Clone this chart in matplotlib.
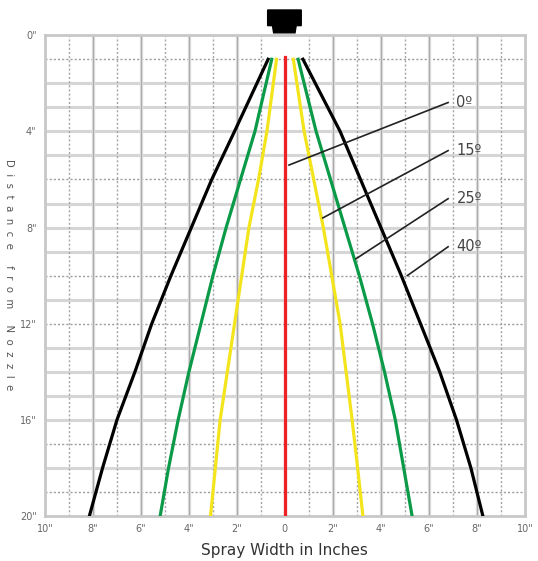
import matplotlib.pyplot as plt
from matplotlib.patches import Polygon, Rectangle

# depth below nozzle (inches) at which each spray edge was read
depth = [1, 4, 6, 8, 10, 12, 14, 16, 18, 20]

# spray edges, left and right, inches from centre
black_left = [-0.7, -2.1, -3.05, -3.9, -4.75, -5.55, -6.25, -7.0, -7.6, -8.15]
black_right = [0.75, 2.3, 3.15, 4.0, 4.85, 5.65, 6.45, 7.15, 7.75, 8.25]
green_left = [-0.55, -1.25, -1.85, -2.45, -3.0, -3.5, -4.0, -4.45, -4.85, -5.2]
green_right = [0.55, 1.3, 1.9, 2.5, 3.1, 3.65, 4.15, 4.6, 4.95, 5.3]
yellow_left = [-0.35, -0.75, -1.1, -1.5, -1.8, -2.1, -2.4, -2.7, -2.9, -3.1]
yellow_right = [0.35, 0.8, 1.2, 1.6, 1.95, 2.3, 2.55, 2.8, 3.03, 3.25]
red_x = [0, 0]
red_y = [0.9, 20]

# angle labels: text, point on curve, end of leader line
angleLabels = ['0º', '15º', '25º', '40º']
pointerStart = [(0.17, 5.4), (1.58, 7.6), (2.96, 9.3), (5.1, 10.0)]
pointerEnd = [(6.8, 2.8), (6.8, 4.8), (6.8, 6.8), (6.8, 8.8)]

xTicks = [-10, -8, -6, -4, -2, 0, 2, 4, 6, 8, 10]
xTickLabels = ['10"', '8"', '6"', '4"', '2"', '0', '2"', '4"', '6"', '8"', '10"']
yTicks = [0, 4, 8, 12, 16, 20]
yTickLabels = ['0"', '4"', '8"', '12"', '16"', '20"']
dottedRows = [1, 6, 10, 12, 17, 19]

fig = plt.figure(figsize=(5.38, 5.61), dpi=100)
ax = fig.add_axes([0.0836, 0.0802, 0.892, 0.857])
ax.set_xlim(-10, 10)
ax.set_ylim(20, 0)

# grid
for yy in range(1, 20):
    if yy in dottedRows:
        ax.axhline(yy, color='#9c9c9c', lw=1, ls=(0, (1.5, 1.5)), zorder=1)
    else:
        ax.axhline(yy, color='#d6d6d6', lw=2.2, zorder=1)
for xx in range(-9, 10):
    if xx % 2 == 0:
        ax.axvline(xx, color='#e0e0e0', lw=2.4, zorder=1)
        ax.axvline(xx, color='#aaaaaa', lw=0.9, zorder=1)
    else:
        ax.axvline(xx, color='#a4a4a4', lw=1, ls=(0, (1.5, 1.5)), zorder=1)

# blank area under the nozzle
ax.add_patch(Rectangle((-0.85, 0), 1.7, 0.9, color='white', zorder=2))

ax.plot(black_left, depth, color='black', lw=2.3, zorder=3)
ax.plot(black_right, depth, color='black', lw=2.3, zorder=3)
ax.plot(green_left, depth, color='#0a9a48', lw=2.3, zorder=3)
ax.plot(green_right, depth, color='#0a9a48', lw=2.3, zorder=3)
ax.plot(yellow_left, depth, color='#f4e41c', lw=2.3, zorder=3)
ax.plot(yellow_right, depth, color='#f4e41c', lw=2.3, zorder=3)
ax.plot(red_x, red_y, color='#ee2222', lw=2.3, zorder=4)

for label, p0, p1 in zip(angleLabels, pointerStart, pointerEnd):
    ax.plot([p0[0], p1[0]], [p0[1], p1[1]], color='#222222', lw=1.2, zorder=5)
    ax.text(p1[0] + 0.35, p1[1], label, fontsize=10.5, color='#444444',
            va='center', ha='left', zorder=5)

# nozzle
nozzle = Polygon([(-0.72, -1.05), (0.68, -1.05), (0.68, -0.4), (0.47, -0.4),
                  (0.42, -0.1), (-0.47, -0.1), (-0.52, -0.4), (-0.72, -0.4)],
                 closed=True, color='black', clip_on=False, zorder=6)
ax.add_patch(nozzle)

ax.set_xticks(xTicks)
ax.set_xticklabels(xTickLabels)
ax.set_yticks(yTicks)
ax.set_yticklabels(yTickLabels)
ax.tick_params(length=0, labelsize=7, colors='#666666', pad=6)
for s in ax.spines.values():
    s.set_color('#c8c8c8')
    s.set_linewidth(2)

ax.set_xlabel('Spray Width in Inches', fontsize=11, color='#333333', labelpad=6)
fig.text(0.016, 0.51, '  '.join('Distance from Nozzle'), rotation=270,
         fontsize=7.3, color='#555555', ha='center', va='center')

plt.savefig('out.png', dpi=100)
